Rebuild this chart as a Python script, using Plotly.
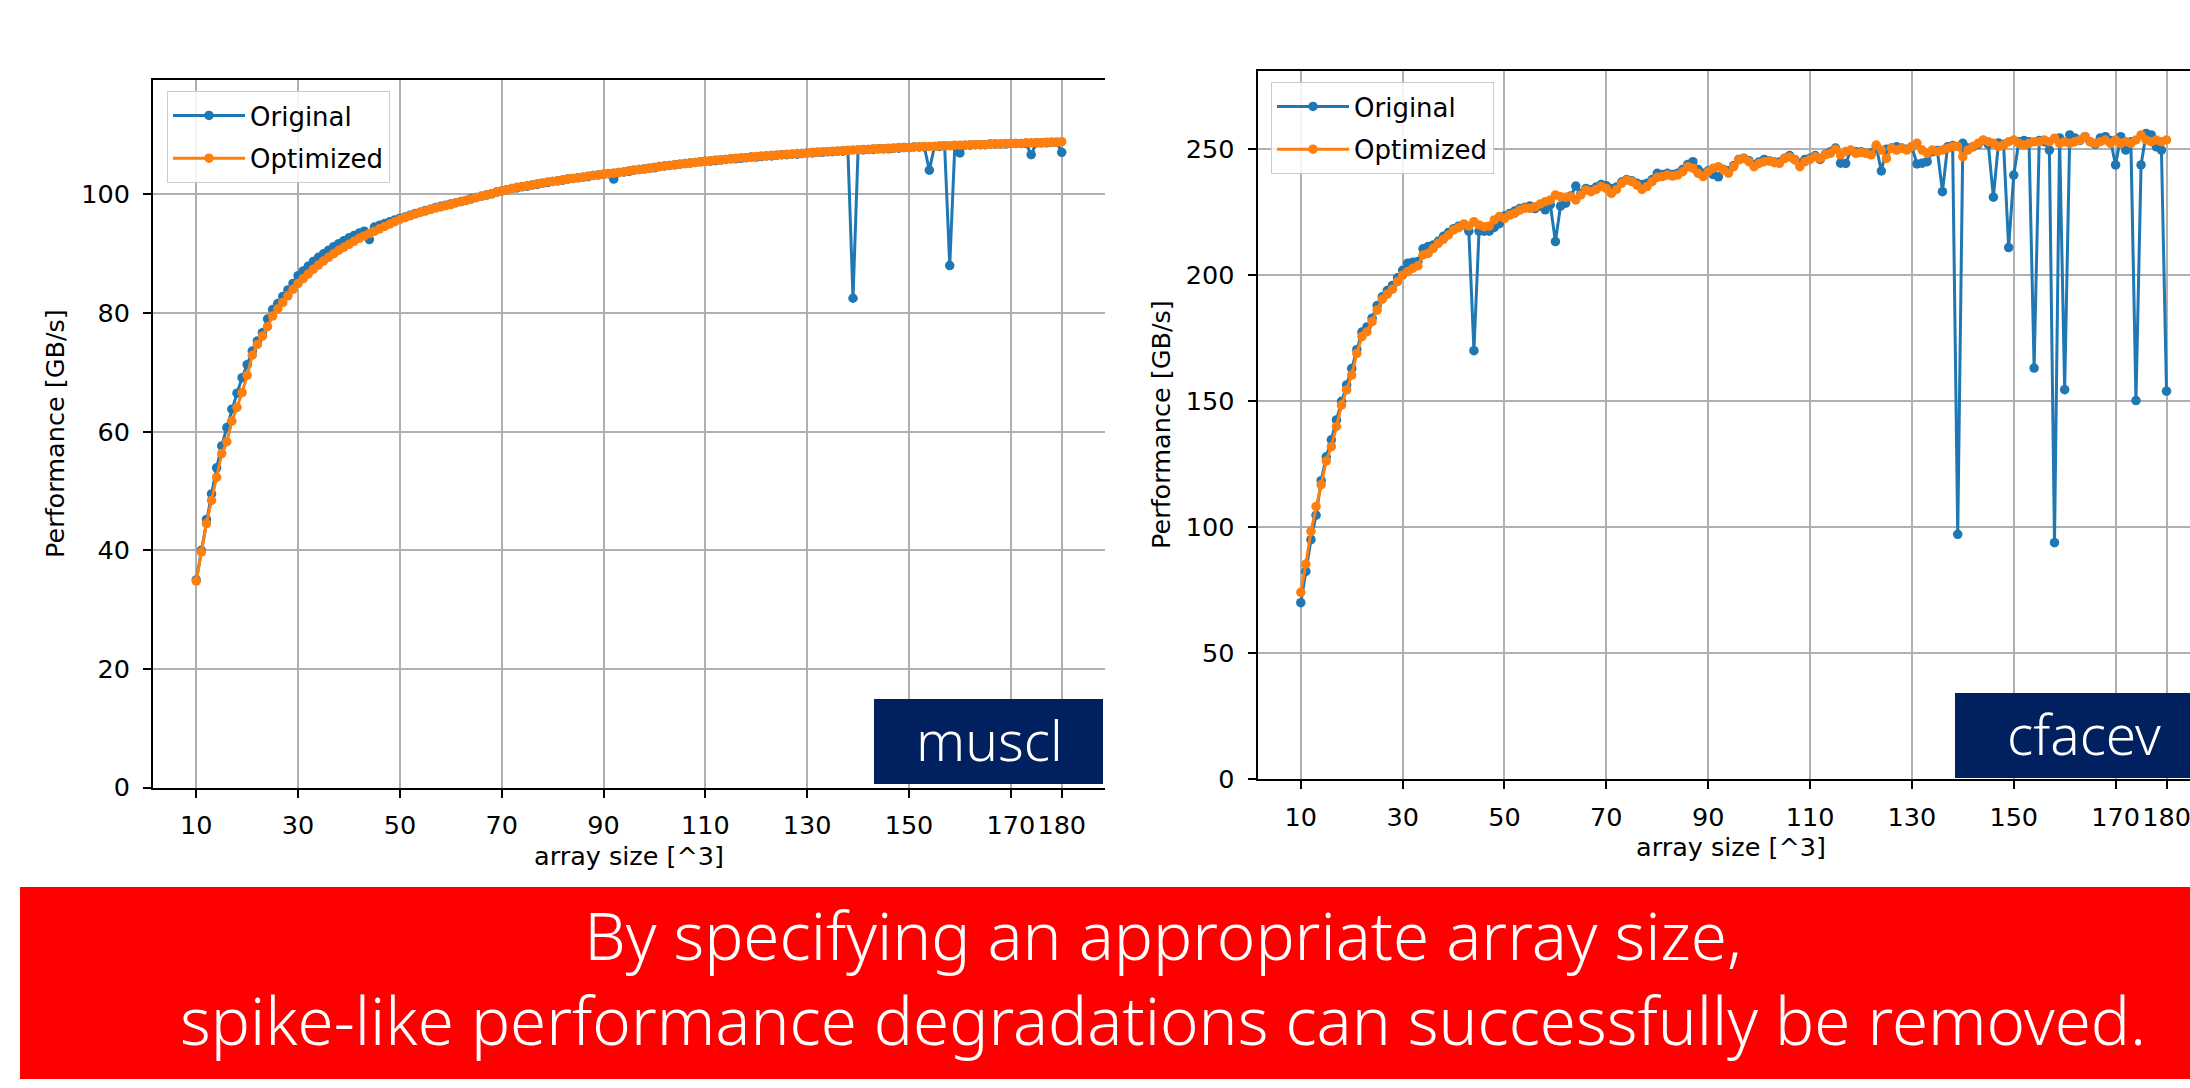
import plotly.graph_objects as go

# ---------------- data ----------------
sizes = list(range(10, 181))

muscl_optimized = [
    34.8, 39.7, 44.5, 48.4, 52.3, 56.3, 58.3, 61.8, 64.1, 66.6,
    69.5, 72.9, 74.7, 76.1, 77.7, 79.5, 80.7, 81.8, 82.9, 84.0,
    85.0, 85.8, 86.6, 87.4, 88.1, 88.8, 89.4, 90.0, 90.6, 91.1,
    91.6, 92.1, 92.6, 93.0, 93.4, 93.8, 94.2, 94.6, 95.0, 95.4,
    95.8, 96.1, 96.4, 96.7, 97.0, 97.2, 97.5, 97.7, 97.9, 98.1,
    98.3, 98.6, 98.8, 99.0, 99.2, 99.5, 99.7, 99.9, 100.1, 100.4,
    100.6, 100.8, 101.0, 101.2, 101.3, 101.5, 101.6, 101.8, 101.9, 102.1,
    102.2, 102.3, 102.5, 102.6, 102.7, 102.8, 102.9, 103.1, 103.2, 103.3,
    103.4, 103.5, 103.6, 103.7, 103.8, 104.0, 104.1, 104.2, 104.3, 104.4,
    104.6, 104.7, 104.8, 104.9, 105.0, 105.1, 105.2, 105.3, 105.4, 105.5,
    105.6, 105.7, 105.8, 105.8, 105.9, 106.0, 106.1, 106.2, 106.2, 106.3,
    106.4, 106.5, 106.5, 106.6, 106.6, 106.7, 106.8, 106.8, 106.9, 106.9,
    107.0, 107.1, 107.1, 107.2, 107.2, 107.3, 107.3, 107.4, 107.4, 107.5,
    107.5, 107.6, 107.6, 107.7, 107.7, 107.7, 107.8, 107.8, 107.9, 107.9,
    107.9, 108.0, 108.0, 108.1, 108.1, 108.1, 108.2, 108.2, 108.2, 108.3,
    108.3, 108.3, 108.4, 108.4, 108.4, 108.4, 108.5, 108.5, 108.5, 108.6,
    108.6, 108.6, 108.6, 108.7, 108.7, 108.7, 108.7, 108.8, 108.8, 108.8,
    108.9,
]

muscl_original = [
    35.0, 40.0, 45.2, 49.5, 53.9, 57.6, 60.7, 63.8, 66.5, 69.1,
    71.3, 73.6, 75.3, 76.7, 79.0, 80.6, 81.6, 82.8, 83.9, 85.0,
    86.3, 87.1, 87.9, 88.7, 89.4, 90.0, 90.6, 91.2, 91.7, 92.2,
    92.7, 93.1, 93.5, 93.8, 92.4, 94.5, 94.8, 95.1, 95.4, 95.7,
    96.0, 96.2, 96.5, 96.8, 97.0, 97.3, 97.5, 97.8, 98.0, 98.2,
    98.4, 98.6, 98.8, 99.0, 99.3, 99.5, 99.7, 99.9, 100.1, 100.4,
    100.6, 100.8, 101.0, 101.1, 101.3, 101.4, 101.6, 101.7, 101.9, 102.0,
    102.2, 102.3, 102.4, 102.6, 102.7, 102.8, 102.9, 103.0, 103.2, 103.3,
    103.4, 103.5, 102.6, 103.7, 103.8, 103.9, 104.1, 104.2, 104.3, 104.4,
    104.5, 104.7, 104.8, 104.9, 105.0, 105.1, 105.2, 105.3, 105.4, 105.5,
    105.6, 105.6, 105.7, 105.8, 105.9, 106.0, 106.0, 106.1, 106.2, 106.3,
    106.3, 106.4, 106.5, 106.5, 106.6, 106.7, 106.7, 106.8, 106.8, 106.9,
    107.0, 107.0, 107.1, 107.1, 107.2, 107.2, 107.3, 107.3, 107.4, 82.5,
    107.5, 107.5, 107.6, 107.6, 107.7, 107.7, 107.7, 107.8, 107.8, 107.9,
    107.9, 108.0, 108.0, 108.0, 104.1, 108.1, 108.1, 108.2, 88.0, 108.2,
    107.0, 108.3, 108.3, 108.4, 108.4, 108.4, 108.5, 108.5, 108.5, 108.5,
    108.6, 108.6, 108.6, 108.6, 106.7, 108.7, 108.7, 108.7, 108.8, 108.8,
    107.1,
]

cfacev_optimized = [
    74.2, 85.4, 98.4, 108.3, 116.9, 126.3, 132.0, 140.0, 148.5, 154.5,
    160.4, 169.0, 175.7, 177.6, 181.6, 186.2, 190.5, 192.5, 194.5, 197.5,
    200.1, 201.5, 202.8, 203.8, 208.1, 208.7, 210.7, 212.7, 214.3, 216.0,
    218.0, 218.9, 220.4, 219.6, 221.3, 220.0, 219.3, 219.6, 222.0, 223.3,
    222.6, 223.9, 224.6, 225.9, 226.6, 226.6, 227.2, 228.3, 229.2, 229.9,
    231.9, 231.2, 231.0, 231.2, 229.9, 231.9, 233.9, 233.2, 234.1, 235.2,
    234.5, 232.5, 234.1, 236.5, 237.8, 237.2, 235.8, 234.1, 235.2, 237.2,
    238.9, 239.2, 239.8, 239.4, 239.8, 241.1, 243.1, 242.5, 240.5, 239.2,
    241.1, 242.5, 243.1, 241.8, 240.5, 243.1, 245.8, 246.4, 245.1, 243.1,
    244.4, 245.1, 245.4, 244.7, 244.4, 246.4, 247.0, 245.8, 243.1, 245.1,
    246.0, 247.1, 246.4, 247.8, 248.4, 250.0, 247.8, 249.1, 249.7, 248.4,
    248.7, 248.4, 247.8, 251.7, 249.7, 246.4, 250.4, 249.7, 250.4, 249.7,
    251.1, 252.4, 249.7, 248.4, 249.7, 249.1, 249.7, 250.4, 251.1, 251.1,
    247.1, 249.7, 251.1, 252.4, 253.7, 253.0, 252.4, 251.1, 251.7, 253.0,
    253.7, 252.4, 251.7, 252.4, 253.0, 253.0, 253.7, 253.0, 254.4, 252.4,
    253.0, 252.4, 253.0, 253.7, 255.0, 253.0, 252.4, 253.0, 253.7, 252.4,
    253.7, 252.4, 253.0, 252.4, 253.7, 255.7, 253.7, 253.0, 253.7, 253.0,
    253.7,
]

cfacev_original = [
    70.1, 82.5, 95.1, 104.8, 118.5, 128.0, 134.7, 142.6, 150.0, 156.5,
    163.0, 170.5, 177.5, 179.5, 183.0, 188.0, 191.5, 194.0, 196.0, 199.0,
    202.0, 204.8, 205.2, 205.5, 210.5, 211.4, 212.0, 213.5, 215.5, 217.0,
    218.5, 219.5, 220.0, 217.5, 170.1, 217.5, 217.5, 217.5, 219.0, 220.5,
    223.5, 224.5, 225.5, 226.5, 227.0, 227.5, 226.5, 227.5, 226.0, 228.0,
    213.4, 227.5, 228.6, 231.5, 235.4, 232.5, 234.5, 234.0, 235.0, 236.0,
    235.5, 234.5, 235.0, 237.0, 238.0, 237.5, 236.5, 236.0, 236.5, 238.0,
    240.5, 240.0, 240.5, 240.0, 240.5, 242.0, 244.0, 245.1, 242.0, 240.5,
    241.5, 240.0, 239.1, 242.0, 241.5, 243.5, 246.0, 246.5, 245.5, 244.0,
    245.0, 246.0, 245.5, 245.0, 245.0, 246.5, 247.5, 246.0, 244.5, 246.0,
    246.5, 247.5, 246.0, 248.0, 249.0, 250.5, 244.5, 244.4, 249.5, 249.0,
    249.0, 248.5, 248.5, 251.0, 241.4, 250.0, 250.5, 251.0, 250.5, 250.0,
    251.0, 244.2, 244.5, 245.1, 249.0, 249.5, 233.2, 251.0, 251.5, 97.2,
    252.4, 250.5, 251.0, 252.0, 253.5, 252.0, 231.0, 252.5, 252.0, 211.0,
    239.8, 253.0, 253.5, 253.0, 163.2, 253.5, 253.0, 249.7, 93.9, 254.5,
    154.6, 255.7, 254.5, 253.5, 255.0, 253.0, 252.0, 254.5, 255.0, 253.5,
    243.8, 255.0, 249.7, 253.0, 150.3, 243.8, 256.3, 255.7, 251.0, 249.7,
    154.0,
]

x_tickvals = [10, 30, 50, 70, 90, 110, 130, 150, 170, 180]
muscl_yticks = [0, 20, 40, 60, 80, 100]
cfacev_yticks = [0, 50, 100, 150, 200, 250]

series_names = ["Original", "Optimized"]
panel_labels = ["muscl", "cfacev"]
x_title = "array size [^3]"
y_title = "Performance [GB/s]"
caption_lines = [
    "By specifying an appropriate array size,",
    "spike-like performance degradations can successfully be removed.",
]

# ---------------- layout helpers ----------------
W, H = 2190, 1088


def px(x):
    return x / W


def py(y):
    return 1 - y / H


BLUE = "#1f77b4"
ORANGE = "#ff7f0e"
TICK_FONT = dict(family="DejaVu Sans", size=25.5, color="#000000")

fig = go.Figure()

panels = [
    ("x", "y", "legend", muscl_original, muscl_optimized),
    ("x2", "y2", "legend2", cfacev_original, cfacev_optimized),
]
for xa, ya, lg, orig, opt in panels:
    for name, vals, col in [(series_names[0], orig, BLUE), (series_names[1], opt, ORANGE)]:
        fig.add_trace(go.Scatter(
            x=sizes, y=vals, name=name, mode="lines+markers",
            line=dict(color=col, width=3),
            marker=dict(color=col, size=9.5),
            xaxis=xa, yaxis=ya, legend=lg, legendgroup=lg + name,
        ))

common_x = dict(
    tickmode="array", tickvals=x_tickvals, ticks="outside", ticklen=8, tickwidth=2,
    tickcolor="black", showline=True, linecolor="black", linewidth=2, mirror=True,
    showgrid=True, gridcolor="#b0b0b0", gridwidth=1.6, zeroline=False,
    tickfont=TICK_FONT, automargin=False, ticklabelstandoff=6, tickangle=0,
    ticklabeloverflow="allow",
)
common_y = dict(
    ticks="outside", ticklen=8, tickwidth=2, tickcolor="black",
    showline=True, linecolor="black", linewidth=2, mirror=False,
    showgrid=True, gridcolor="#b0b0b0", gridwidth=1.6, zeroline=False,
    tickfont=TICK_FONT, automargin=False, ticklabelstandoff=8,
)

legend_style = dict(
    xanchor="left", yanchor="top",
    bgcolor="rgba(255,255,255,0.85)", bordercolor="#cccccc", borderwidth=1,
    font=dict(family="DejaVu Sans", size=26, color="#000000"),
    tracegroupgap=6, itemwidth=72,
)

fig.update_layout(
    width=W, height=H,
    margin=dict(l=0, r=0, t=0, b=0),
    paper_bgcolor="white", plot_bgcolor="white",
    xaxis=dict(domain=[px(153), px(1105)], range=[1.5, 188.5], anchor="y", **common_x),
    yaxis=dict(domain=[py(787.5), py(80)], range=[0, 119.3], anchor="x",
               tickmode="array", tickvals=muscl_yticks, **common_y),
    xaxis2=dict(domain=[px(1257.5), 1.0], range=[1.5, 184.61], anchor="y2", **common_x),
    yaxis2=dict(domain=[py(779.3), py(70.7)], range=[0, 281.2], anchor="x2",
                tickmode="array", tickvals=cfacev_yticks, **common_y),
    legend=dict(x=px(167), y=py(91), **legend_style),
    legend2=dict(x=px(1271), y=py(82), **legend_style),
    showlegend=True,
)

shapes = [
    # panel label boxes
    dict(type="rect", xref="paper", yref="paper", x0=px(874), x1=px(1103), y0=py(784), y1=py(699),
         fillcolor="#002060", line=dict(width=0), layer="above"),
    dict(type="rect", xref="paper", yref="paper", x0=px(1955), x1=1.0, y0=py(778), y1=py(693),
         fillcolor="#002060", line=dict(width=0), layer="above"),
    # caption banner
    dict(type="rect", xref="paper", yref="paper", x0=px(20), x1=1.0, y0=py(1079), y1=py(887),
         fillcolor="#ff0000", line=dict(width=0), layer="above"),
]
fig.update_layout(shapes=shapes)

LABEL_FONT = dict(family="Noto Sans", size=55, color="white", weight=300)
CAPTION_FONT = dict(family="Noto Sans", size=65.5, color="white", weight=300)
annotations = [
    dict(text=panel_labels[0], x=px(989), y=py(739), xanchor="center", yanchor="middle",
         font=LABEL_FONT),
    dict(text=panel_labels[1], x=px(2084), y=py(733), xanchor="center", yanchor="middle",
         font=LABEL_FONT),
    dict(text="<br>".join(caption_lines), x=px(1163), y=py(977), xanchor="center",
         yanchor="middle", align="center", font=CAPTION_FONT),
    dict(text=x_title, x=px(629), y=py(856), xanchor="center", yanchor="middle",
         font=dict(family="DejaVu Sans", size=25.5, color="black")),
    dict(text=x_title, x=px(1731), y=py(847), xanchor="center", yanchor="middle",
         font=dict(family="DejaVu Sans", size=25.5, color="black")),
    dict(text=y_title, x=px(55), y=py(434), xanchor="center", yanchor="middle", textangle=-90,
         font=dict(family="DejaVu Sans", size=25.5, color="black")),
    dict(text=y_title, x=px(1161), y=py(425), xanchor="center", yanchor="middle", textangle=-90,
         font=dict(family="DejaVu Sans", size=25.5, color="black")),
]
for a in annotations:
    a.update(xref="paper", yref="paper", showarrow=False)
fig.update_layout(annotations=annotations)

fig.write_html(
    "out.html",
    config={"displayModeBar": False},
    post_script="document.body.style.margin='0';document.body.style.overflow='hidden';",
)
